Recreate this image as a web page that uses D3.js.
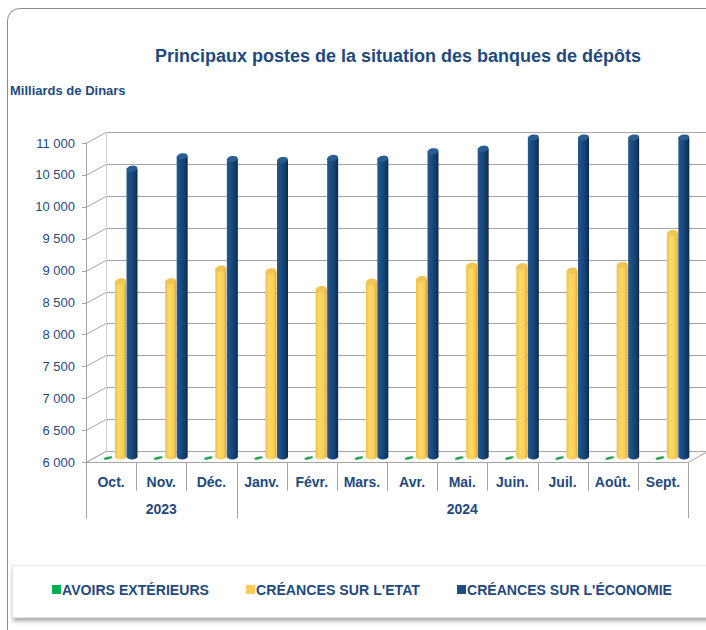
<!DOCTYPE html>
<html>
<head>
<meta charset="utf-8">
<script src="https://cdn.jsdelivr.net/npm/d3@7"></script>
<style>
  html, body { margin: 0; padding: 0; background: #fff; }
  svg { display: block; font-family: "Liberation Sans", Arial, sans-serif; }
</style>
</head>
<body>
<svg id="chart" width="706" height="630"></svg>
<script>
// Principaux postes de la situation des banques de dépôts (3D clustered columns)
const months = ['Oct.', 'Nov.', 'Déc.', 'Janv.', 'Févr.', 'Mars.', 'Avr.', 'Mai.', 'Juin.', 'Juil.', 'Août.', 'Sept.'];
const yearLabels = ['2023', '2024'];
const yearSpans = [3, 9];
const seriesNames = ['AVOIRS EXTÉRIEURS', "CRÉANCES SUR L'ETAT", "CRÉANCES SUR L'ÉCONOMIE"];
// values below the 6 000 floor only show as a flat disc
const avoirsExt = [420, 410, 400, 395, 400, 405, 410, 415, 420, 425, 430, 435];
const creancesEtat = [8746, 8746, 8944, 8903, 8625, 8740, 8782, 8991, 8981, 8912, 9002, 9503];
const creancesEco = [10511, 10705, 10663, 10647, 10679, 10668, 10784, 10824, 11000, 11000, 11000, 11000];
const yDomain = [6000, 11000];

const svg = d3.select('#chart');
const TXT = '#1f4a7c';
const GRID = '#a6a6a6';
const DX = 20, DY = -11;          // depth of the 3D box
const MX = DX / 2, MY = DY / 2;   // bars sit at mid depth

const x = d3.scaleBand().domain(months).range([86, 688]);
const y = d3.scaleLinear().domain(yDomain).range([462, 143]);
const sub = d3.scaleBand().domain(seriesNames).range([7.5, 42]);
const fmt = d3.formatLocale({ decimal: ',', thousands: ' ', grouping: [3], currency: ['', ''] }).format(',d');

// gradients for the cylinders
const defs = svg.append('defs');
function grad(id, stops) {
  const g = defs.append('linearGradient').attr('id', id).attr('x1', '0%').attr('x2', '100%');
  stops.forEach(([o, c]) => g.append('stop').attr('offset', o).attr('stop-color', c));
}
grad('gBlue', [['0%', '#28588b'], ['35%', '#1a4c82'], ['75%', '#123d6b'], ['100%', '#0a2848']]);
grad('gYel', [['0%', '#f0c04a'], ['35%', '#ffd966'], ['75%', '#f9cf58'], ['100%', '#dca536']]);
grad('gGreen', [['0%', '#1f9a47'], ['100%', '#0f6e30']]);
const sh = defs.append('filter').attr('id', 'shadow').attr('x', '-5%').attr('y', '-20%').attr('width', '115%').attr('height', '160%');
sh.append('feDropShadow').attr('dx', 1).attr('dy', 3).attr('stdDeviation', 2).attr('flood-color', '#000').attr('flood-opacity', 0.35);

// outer frame
svg.append('rect').attr('x', 7.5).attr('y', 8.5).attr('width', 740).attr('height', 660).attr('rx', 12)
  .attr('fill', '#fff').attr('stroke', '#8c8c8c');

svg.append('text').attr('x', 398).attr('y', 62).attr('text-anchor', 'middle')
  .attr('font-size', 18).attr('font-weight', 'bold').attr('fill', TXT)
  .text('Principaux postes de la situation des banques de dépôts');
svg.append('text').attr('x', 10).attr('y', 95).attr('font-size', 13).attr('font-weight', 'bold').attr('fill', TXT)
  .text('Milliards de Dinars');

// walls: back gridlines + left side diagonals
const ticks = y.ticks(10);
const x0 = x.range()[0], x1 = x.range()[1];
const walls = svg.append('g').attr('stroke', GRID).attr('fill', 'none');
ticks.forEach(t => {
  const yy = Math.round(y(t)) + 0.5;
  walls.append('line').attr('x1', x0 + DX).attr('x2', 712).attr('y1', yy + DY).attr('y2', yy + DY);
  walls.append('line').attr('x1', x0).attr('y1', yy).attr('x2', x0 + DX).attr('y2', yy + DY);
  walls.append('line').attr('x1', x0 - 4).attr('x2', x0).attr('y1', yy).attr('y2', yy);
});
walls.append('line').attr('x1', x0 + DX + 0.5).attr('x2', x0 + DX + 0.5).attr('y1', y(yDomain[1]) + DY).attr('y2', y(yDomain[0]) + DY).attr('stroke', '#d0d0d0');
// floor
const yf = Math.round(y(yDomain[0])) + 0.5;
walls.append('path').attr('fill', '#fafafa')
  .attr('d', `M${x0},${yf}L${x1},${yf}L${x1 + DX},${yf + DY}L${x0 + DX},${yf + DY}Z`);
walls.append('line').attr('x1', x0 + 0.5).attr('x2', x0 + 0.5).attr('y1', y(yDomain[1])).attr('y2', yf);

svg.append('g').selectAll('text').data(ticks).join('text')
  .attr('x', 75).attr('y', d => y(d) + 4.5).attr('text-anchor', 'end')
  .attr('font-size', 13).attr('fill', TXT).text(d => fmt(d));

// bars
const series = [
  { name: seriesNames[0], values: avoirsExt, fill: 'url(#gGreen)', cap: '#23a14d' },
  { name: seriesNames[1], values: creancesEtat, fill: 'url(#gYel)', cap: '#f2c453' },
  { name: seriesNames[2], values: creancesEco, fill: 'url(#gBlue)', cap: '#2a5d93' }
];
const RY = 3;
const bars = svg.append('g');
months.forEach((m, i) => {
  series.forEach(s => {
    const v = Math.min(Math.max(s.values[i], yDomain[0]), yDomain[1]);
    const bx = x(m) + sub(s.name) + MX;
    const bw = sub.bandwidth() - 0.5;
    const cx = bx + bw / 2;
    const yb = y(yDomain[0]) + MY, yt = y(v) + MY;
    if (yb - yt < 1) {
      bars.append('ellipse').attr('cx', cx - 1).attr('cy', yb + 1.5).attr('rx', bw / 2 - 1).attr('ry', 1.3)
        .attr('transform', `rotate(-14,${cx - 1},${yb + 1.5})`).attr('fill', s.cap);
      return;
    }
    bars.append('path').attr('fill', s.fill)
      .attr('d', `M${bx},${yt}L${bx},${yb}A${bw / 2},${RY} 0 0 0 ${bx + bw},${yb}L${bx + bw},${yt}Z`);
    bars.append('ellipse').attr('cx', cx).attr('cy', yt).attr('rx', bw / 2).attr('ry', RY)
      .attr('transform', `rotate(-10,${cx},${yt})`).attr('fill', s.cap);
  });
});

// category axis
const cat = svg.append('g');
const bounds = d3.range(months.length + 1);
const yearEdges = [0];
yearSpans.forEach(n => yearEdges.push(yearEdges[yearEdges.length - 1] + n));
const bandW = x.bandwidth();
bounds.forEach(k => {
  const xx = Math.round(x0 + k * bandW) + 0.5;
  const long = yearEdges.includes(k);
  cat.append('line').attr('x1', xx).attr('x2', xx).attr('y1', yf).attr('y2', long ? 518 : 491).attr('stroke', GRID);
});
cat.selectAll('text.m').data(months).join('text').attr('class', 'm')
  .attr('x', d => x(d) + bandW / 2).attr('y', 487).attr('text-anchor', 'middle')
  .attr('font-size', 14).attr('font-weight', 'bold').attr('fill', TXT).text(d => d);
yearLabels.forEach((lab, j) => {
  const a = x0 + yearEdges[j] * bandW, b = x0 + yearEdges[j + 1] * bandW;
  cat.append('text').attr('x', (a + b) / 2).attr('y', 514).attr('text-anchor', 'middle')
    .attr('font-size', 14).attr('font-weight', 'bold').attr('fill', TXT).text(lab);
});

// legend
const lg = svg.append('g');
lg.append('rect').attr('x', 12.5).attr('y', 565.5).attr('width', 720).attr('height', 52)
  .attr('fill', '#fff').attr('stroke', '#e6e6e6').attr('filter', 'url(#shadow)');
const legendX = [52, 246, 457];
const legendCol = ['#00b050', '#ffcc5c', '#1f4e79'];
seriesNames.forEach((n, i) => {
  lg.append('rect').attr('x', legendX[i]).attr('y', 585).attr('width', 9).attr('height', 9).attr('fill', legendCol[i]);
  lg.append('text').attr('x', legendX[i] + 10).attr('y', 595).attr('font-size', 14).attr('font-weight', 'bold')
    .attr('fill', TXT).attr('textLength', [147, 164, 205][i]).attr('lengthAdjust', 'spacingAndGlyphs').text(n);
});
</script>
</body>
</html>
